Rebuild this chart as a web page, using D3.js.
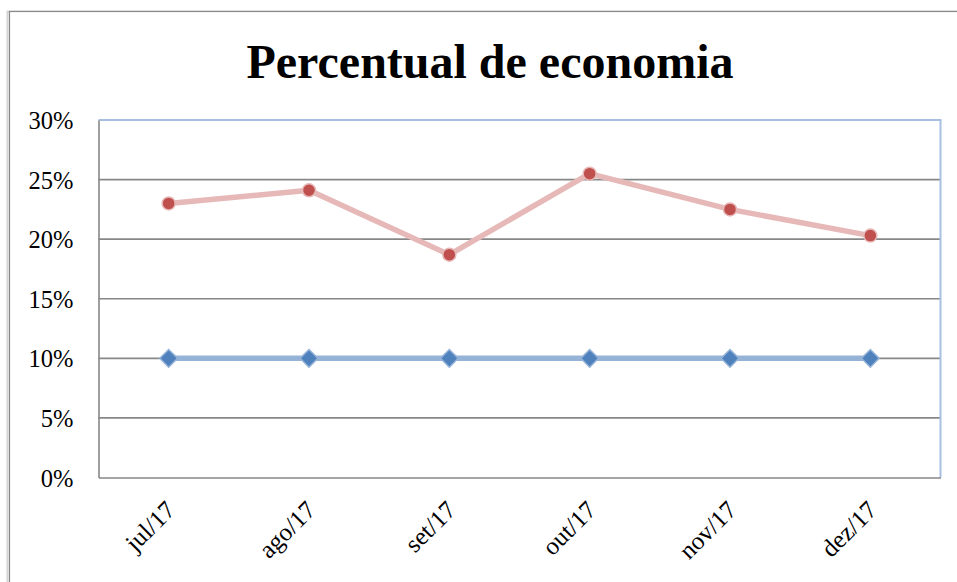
<!DOCTYPE html>
<html><head><meta charset="utf-8">
<script src="https://cdn.jsdelivr.net/npm/d3@7"></script>
<style>html,body{margin:0;padding:0;background:#fff;}svg{display:block;}</style>
</head><body>
<svg id="chart" width="957" height="582"></svg>
<script>
const categories = ["jul/17","ago/17","set/17","out/17","nov/17","dez/17"];
const metaValues = [10, 10, 10, 10, 10, 10];
const economiaValues = [23.0, 24.1, 18.7, 25.5, 22.5, 20.3];
const yTicks = [0, 5, 10, 15, 20, 25, 30];
const title = "Percentual de economia";

const svg = d3.select("#chart");
const m = {left: 98.5, right: 940.5, top: 120, bottom: 477.5};
const font = "'Liberation Serif','Times New Roman',serif";

// outer frame with slight shadow
svg.append("rect").attr("x", 7.5).attr("y", 11.5).attr("width", 1100).attr("height", 700)
  .attr("fill", "none").attr("stroke", "#d4d4d4").attr("stroke-width", 2);
svg.append("rect").attr("x", 9.5).attr("y", 11.5).attr("width", 1100).attr("height", 700)
  .attr("fill", "#fff").attr("stroke", "#8a8a8a").attr("stroke-width", 1.2);

svg.append("text").attr("x", 490).attr("y", 78).attr("text-anchor", "middle")
  .attr("font-family", font).attr("font-weight", "bold").attr("font-size", 48)
  .attr("fill", "#000").text(title);

const x = d3.scaleBand().domain(categories).range([m.left, m.right]).padding(0);
const y = d3.scaleLinear().domain([0, 30]).range([m.bottom, m.top]);
const cx = d => x(d) + x.bandwidth() / 2;

// gridlines
svg.append("g").selectAll("line").data(yTicks.filter(t => t > 0 && t < 30)).join("line")
  .attr("x1", m.left).attr("x2", m.right).attr("y1", d => y(d)).attr("y2", d => y(d))
  .attr("stroke", "#878787").attr("stroke-width", 1.6);

// plot border (top/right light blue)
svg.append("line").attr("x1", m.left).attr("x2", m.right + 1).attr("y1", m.top).attr("y2", m.top)
  .attr("stroke", "#a7bfe2").attr("stroke-width", 2);
svg.append("line").attr("x1", m.right).attr("x2", m.right).attr("y1", m.top).attr("y2", m.bottom)
  .attr("stroke", "#a7bfe2").attr("stroke-width", 2);

// y axis
const yAxis = d3.axisLeft(y).tickValues(yTicks).tickFormat(d => d + "%").tickSize(0).tickPadding(25);
const gy = svg.append("g").attr("transform", `translate(${m.left},0)`).call(yAxis);
gy.select(".domain").attr("stroke", "#878787").attr("stroke-width", 1.6);
gy.selectAll("text").attr("font-family", font).attr("font-size", 24.5).attr("fill", "#000").attr("dy", "0.35em");

// x axis
const xAxis = d3.axisBottom(x).tickSize(0).tickPadding(0);
const gx = svg.append("g").attr("transform", `translate(0,${m.bottom})`).call(xAxis);
gx.select(".domain").attr("stroke", "#878787").attr("stroke-width", 1.6);
gx.selectAll(".tick text").attr("font-family", font).attr("font-size", 25).attr("fill", "#000")
  .attr("text-anchor", "end").attr("dy", 0).attr("y", 0)
  .attr("transform", "translate(8,34) rotate(-45)");

// lines
const line = vals => d3.line().x((d, i) => cx(categories[i])).y(d => y(d))(vals);
svg.append("path").attr("d", line(metaValues)).attr("fill", "none")
  .attr("stroke", "#95b3d7").attr("stroke-width", 5.5).attr("stroke-linejoin", "round");
svg.append("path").attr("d", line(economiaValues)).attr("fill", "none")
  .attr("stroke", "#e6b9b8").attr("stroke-width", 5.5).attr("stroke-linejoin", "round");

// markers
svg.append("g").selectAll("path").data(metaValues).join("path")
  .attr("d", d3.symbol().type(d3.symbolDiamond2).size(200)())
  .attr("transform", (d, i) => `translate(${cx(categories[i])},${y(d)})`)
  .attr("fill", "#4f81bd").attr("stroke", "#95b3d7").attr("stroke-width", 1.5);
svg.append("g").selectAll("circle").data(economiaValues).join("circle")
  .attr("cx", (d, i) => cx(categories[i])).attr("cy", d => y(d)).attr("r", 6.5)
  .attr("fill", "#c0504d").attr("stroke", "#e6b9b8").attr("stroke-width", 1.5);
</script>
</body></html>
